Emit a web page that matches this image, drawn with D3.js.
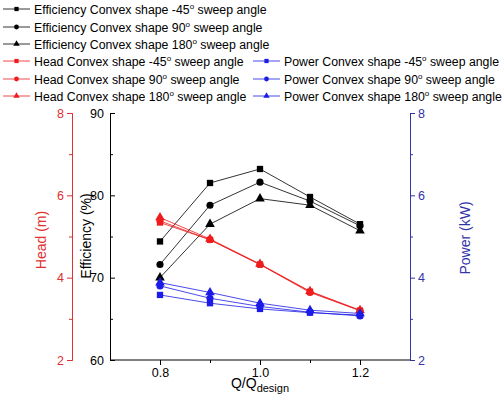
<!DOCTYPE html>
<html><head><meta charset="utf-8">
<script src="https://cdn.jsdelivr.net/npm/d3@7"></script>
<style>body{margin:0;background:#fff;font-family:Arial,"Liberation Sans",sans-serif}</style>
</head><body><div id="container"></div>
<script>
// data
const flow = [0.8, 0.9, 1.0, 1.1, 1.2];
const effSquare = [74.4, 81.5, 83.2, 79.8, 76.5];
const effCircle = [71.6, 78.8, 81.6, 79.3, 76.3];
const effTriangle = [70.0, 76.5, 79.6, 78.8, 75.7];
const headSquare = [5.34, 4.92, 4.32, 3.66, 3.2];
const headCircle = [5.38, 4.92, 4.32, 3.64, 3.2];
const headTriangle = [5.46, 4.94, 4.33, 3.67, 3.21];
const powerSquare = [3.58, 3.38, 3.24, 3.15, 3.09];
const powerCircle = [3.80, 3.50, 3.30, 3.16, 3.07];
const powerTriangle = [3.88, 3.64, 3.38, 3.21, 3.13];
const xTicks = [0.8, 1.0, 1.2];
const effTicks = [60, 70, 80, 90];
const sideTicks = [2, 4, 6, 8];

const black = '#000', red = '#ee1c1c', blue = '#1c1ce6', axisRed = '#e03030', axisBlue = '#3333aa';

const series = [
  {name: 'Efficiency Convex shape -45', vals: effSquare, sym: d3.symbolSquare, color: black, axis: 'eff'},
  {name: 'Efficiency Convex shape 90', vals: effCircle, sym: d3.symbolCircle, color: black, axis: 'eff'},
  {name: 'Efficiency Convex shape 180', vals: effTriangle, sym: d3.symbolTriangle, color: black, axis: 'eff'},
  {name: 'Head Convex shape -45', vals: headSquare, sym: d3.symbolSquare, color: red, axis: 'head'},
  {name: 'Head Convex shape 90', vals: headCircle, sym: d3.symbolCircle, color: red, axis: 'head'},
  {name: 'Head Convex shape 180', vals: headTriangle, sym: d3.symbolTriangle, color: red, axis: 'head'},
  {name: 'Power Convex shape -45', vals: powerSquare, sym: d3.symbolSquare, color: blue, axis: 'power'},
  {name: 'Power Convex shape 90', vals: powerCircle, sym: d3.symbolCircle, color: blue, axis: 'power'},
  {name: 'Power Convex shape 180', vals: powerTriangle, sym: d3.symbolTriangle, color: blue, axis: 'power'}
];

const svg = d3.select('#container').append('svg').attr('width', 502).attr('height', 407);

const x = d3.scaleLinear().domain([0.7, 1.3]).range([110, 410]);
const yEff = d3.scaleLinear().domain([60, 90]).range([360, 113]);
const ySide = d3.scaleLinear().domain([2, 8]).range([360, 113]);
const scales = {eff: yEff, head: ySide, power: ySide};

svg.append('line').attr('x1', 110).attr('x2', 410).attr('y1', 360).attr('y2', 360).attr('stroke', black);

// axes
const styleAxis = (g, color) => {
  g.select('.domain').attr('stroke', color);
  g.selectAll('line').attr('stroke', color);
  g.selectAll('text').attr('fill', color).attr('font-size', 12.5).attr('font-family', 'Arial, Liberation Sans, sans-serif');
};
const minor = ticks => d3.range(ticks.length - 1).map(i => (ticks[i] + ticks[i + 1]) / 2);
const intFmt = d3.format('d');

let g = svg.append('g').attr('transform', 'translate(0,360)')
  .call(d3.axisBottom(x).tickValues(xTicks).tickFormat(d3.format('.1f')).tickSize(5));
styleAxis(g, black);
g.select('.domain').remove();
svg.append('g').attr('transform', 'translate(0,360)')
  .call(d3.axisBottom(x).tickValues([0.9, 1.1]).tickFormat('').tickSize(3))
  .call(a => a.select('.domain').remove());

g = svg.append('g').attr('transform', 'translate(110,0)')
  .call(d3.axisLeft(yEff).tickValues(effTicks).tickFormat(intFmt).tickSize(-5).tickPadding(6));
styleAxis(g, black);
svg.append('g').attr('transform', 'translate(110,0)')
  .call(d3.axisLeft(yEff).tickValues(minor(effTicks)).tickSize(-3).tickFormat(''))
  .call(a => a.select('.domain').remove());

g = svg.append('g').attr('transform', 'translate(72,0)')
  .call(d3.axisLeft(ySide).tickValues(sideTicks).tickFormat(intFmt).tickSize(5).tickSizeOuter(0));
styleAxis(g, axisRed);
g = svg.append('g').attr('transform', 'translate(72,0)')
  .call(d3.axisLeft(ySide).tickValues(minor(sideTicks)).tickSize(3).tickFormat(''));
styleAxis(g, axisRed);

g = svg.append('g').attr('transform', 'translate(410,0)')
  .call(d3.axisRight(ySide).tickValues(sideTicks).tickFormat(intFmt).tickSize(5).tickSizeOuter(0));
styleAxis(g, axisBlue);
g = svg.append('g').attr('transform', 'translate(410,0)')
  .call(d3.axisRight(ySide).tickValues(minor(sideTicks)).tickSize(3).tickFormat(''));
styleAxis(g, axisBlue);

// axis titles
svg.append('text').attr('transform', 'translate(46,240) rotate(-90)').attr('text-anchor', 'middle')
  .attr('font-size', 14).attr('fill', axisRed).text('Head (m)');
svg.append('text').attr('transform', 'translate(91,236) rotate(-90)').attr('text-anchor', 'middle')
  .attr('font-size', 14).attr('fill', black).text('Efficiency (%)');
svg.append('text').attr('transform', 'translate(470,238) rotate(-90)').attr('text-anchor', 'middle')
  .attr('font-size', 14).attr('fill', axisBlue).text('Power (kW)');
const xl = svg.append('text').attr('x', 260).attr('y', 388).attr('text-anchor', 'middle').attr('font-size', 14);
xl.append('tspan').text('Q/Q');
xl.append('tspan').attr('font-size', 11).attr('dy', 4).text('design');

// series
const line = d3.line();
series.forEach(s => {
  const y = scales[s.axis];
  const pts = flow.map((f, i) => [x(f), y(s.vals[i])]);
  svg.append('path').attr('d', line(pts)).attr('fill', 'none').attr('stroke', s.color).attr('stroke-width', 0.8);
  svg.selectAll(null).data(pts).enter().append('path')
    .attr('transform', d => `translate(${d[0]},${d[1]})`)
    .attr('d', d3.symbol().type(s.sym).size(40)).attr('fill', s.color);
});

// legend
const legPos = [[3, 9], [3, 27], [3, 44], [3, 61], [3, 79], [3, 96], [253, 61], [253, 79], [253, 96]];
series.forEach((s, i) => {
  const [lx, ly] = legPos[i];
  const lg = svg.append('g').attr('transform', `translate(${lx},${ly})`);
  lg.append('line').attr('x1', 0).attr('x2', 27).attr('stroke', s.color).attr('stroke-width', 0.8);
  lg.append('path').attr('transform', 'translate(13.5,0)').attr('d', d3.symbol().type(s.sym).size(18)).attr('fill', s.color);
  const t = lg.append('text').attr('x', 31).attr('y', 4.5).attr('font-size', 12.3).attr('fill', black);
  t.append('tspan').text(s.name);
  t.append('tspan').attr('font-size', 8).attr('dy', -5).text('o');
  t.append('tspan').attr('dy', 5).text(' sweep angle');
});
</script></body></html>
